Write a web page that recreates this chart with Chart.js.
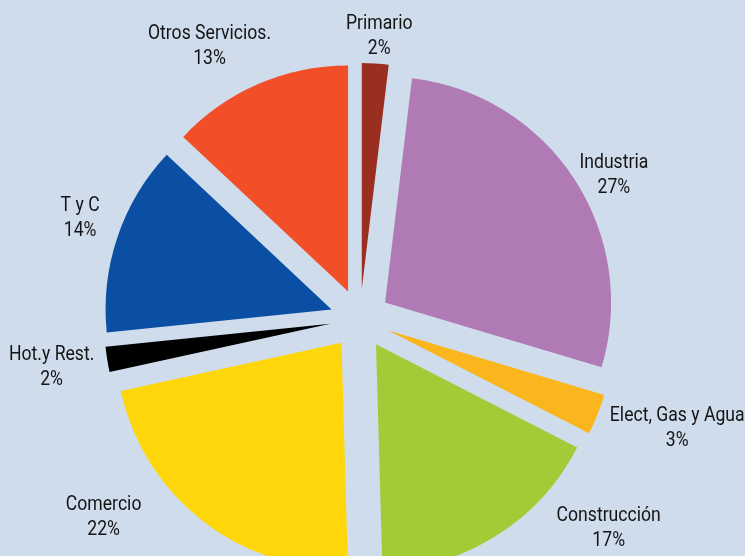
<!DOCTYPE html>
<html>
<head>
<meta charset="utf-8">
<script src="https://cdn.jsdelivr.net/npm/chart.js@4/dist/chart.umd.min.js"></script>
<style>
  html, body { margin: 0; padding: 0; background: #cfdcec; }
  #pie { display: block; }
</style>
</head>
<body>
<canvas id="pie" width="745" height="556"></canvas>
<script>
/* ============================================================
   DATA
============================================================ */
const sectors = ['Primario', 'Industria', 'Elect, Gas y Agua', 'Construcción', 'Comercio', 'Hot.y Rest.', 'T y C', 'Otros Servicios.'];
const shares = [1.9, 27.7, 2.9, 17.0, 22.0, 1.8, 13.6, 13.0];
const shareLabels = ['2%', '27%', '3%', '17%', '22%', '2%', '14%', '13%'];
const sliceColors = ['#9a2f21', '#b07ab4', '#fbb61e', '#a3cb38', '#ffd60a', '#000000', '#0a4fa3', '#f24f28'];

// ── 各スライスを中心から押し出して描く ──
const explodePlugin = {
  id: 'explode',
  beforeDatasetDraw(chart, args, opts) {
    const ctx = chart.ctx;
    args.meta.data.forEach(arc => {
      const mid = (arc.startAngle + arc.endAngle) / 2;
      ctx.save();
      ctx.translate(Math.cos(mid) * opts.distance, Math.sin(mid) * opts.distance);
      arc.draw(ctx);
      ctx.restore();
    });
    return false;
  }
};

// ── ラベル（名前 + %）、細めの書体に見せるため横方向を圧縮 ──
const labelPlugin = {
  id: 'sliceLabels',
  afterDatasetsDraw(chart, args, opts) {
    const ctx = chart.ctx;
    const arcs = chart.getDatasetMeta(0).data;
    arcs.forEach((arc, i) => {
      const mid = (arc.startAngle + arc.endAngle) / 2;
      const r = arc.outerRadius + opts.gap;
      const nudge = opts.nudge[i] || [0, 0];
      const x = arc.x + Math.cos(mid) * r + nudge[0];
      const y = arc.y + Math.sin(mid) * r + nudge[1] + 2;
      ctx.save();
      ctx.translate(x, y);
      ctx.scale(opts.condense, 1);
      ctx.font = opts.font;
      ctx.fillStyle = opts.color;
      ctx.textAlign = 'center';
      ctx.textBaseline = 'middle';
      ctx.fillText(chart.data.labels[i], 0, -opts.lineGap / 2);
      ctx.fillText(shareLabels[i], 0, opts.lineGap / 2);
      ctx.restore();
    });
  }
};

new Chart(document.getElementById('pie'), {
  type: 'pie',
  data: {
    labels: sectors,
    datasets: [{
      data: shares,
      backgroundColor: sliceColors,
      borderWidth: 0
    }]
  },
  options: {
    responsive: false,
    animation: false,
    radius: 226,
    layout: { padding: { top: 82, bottom: 0, left: 0, right: 25 } },
    plugins: {
      legend: { display: false },
      tooltip: { enabled: false },
      explode: { distance: 30 },
      sliceLabels: {
        gap: 62,
        lineGap: 25,
        condense: 0.88,
        font: "20px Roboto, 'Noto Sans', sans-serif",
        color: '#141414',
        nudge: [[2, 3], [13, 12], [50, 0], [95, -36], [-79, -30], [-24, 1], [-7, -10], [-36, -10]]
      }
    }
  },
  plugins: [explodePlugin, labelPlugin]
});
</script>
</body>
</html>
